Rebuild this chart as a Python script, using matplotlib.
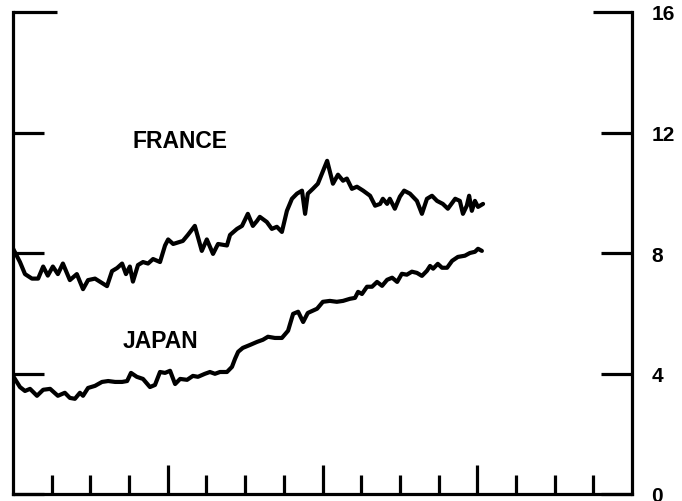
import matplotlib
matplotlib.use("Agg")
import matplotlib.pyplot as plt
from matplotlib.ticker import FixedLocator

# ---- data (x in years from start of axis, y in percent) ----
france_x = [0.00, 0.18, 0.31, 0.49, 0.65, 0.78, 0.90, 1.03, 1.16, 1.29, 1.47, 1.65, 1.81, 1.94,
            2.12, 2.43, 2.56, 2.69, 2.82, 2.92, 3.02, 3.10, 3.23, 3.36, 3.49, 3.62, 3.80, 3.93,
            4.01, 4.14, 4.39, 4.52, 4.70, 4.88, 5.01, 5.17, 5.30, 5.53, 5.61, 5.79, 5.92, 6.07,
            6.20, 6.31, 6.38, 6.56, 6.69, 6.82, 6.95, 7.08, 7.21, 7.34, 7.47, 7.55, 7.62, 7.75,
            7.88, 8.12, 8.27, 8.40, 8.53, 8.63, 8.76, 8.89, 9.05, 9.23, 9.36, 9.49, 9.56, 9.67,
            9.74, 9.87, 10.00, 10.11, 10.26, 10.44, 10.57, 10.70, 10.83, 10.96, 11.11, 11.24,
            11.43, 11.55, 11.63, 11.73, 11.79, 11.86, 11.94, 12.02, 12.15]
france_y = [8.15, 7.70, 7.30, 7.15, 7.15, 7.55, 7.25, 7.55, 7.30, 7.65, 7.10, 7.30, 6.80, 7.10,
            7.15, 6.90, 7.40, 7.50, 7.65, 7.30, 7.55, 7.05, 7.60, 7.70, 7.65, 7.80, 7.70, 8.25,
            8.45, 8.30, 8.40, 8.60, 8.90, 8.07, 8.45, 7.97, 8.30, 8.25, 8.60, 8.80, 8.90, 9.30,
            8.90, 9.07, 9.20, 9.03, 8.80, 8.87, 8.70, 9.40, 9.80, 9.97, 10.07, 9.30, 9.97, 10.13,
            10.30, 11.06, 10.30, 10.60, 10.40, 10.47, 10.13, 10.20, 10.07, 9.90, 9.57, 9.63, 9.80,
            9.63, 9.80, 9.47, 9.87, 10.07, 9.97, 9.73, 9.30, 9.80, 9.90, 9.73, 9.63, 9.47,
            9.80, 9.73, 9.30, 9.57, 9.90, 9.40, 9.73, 9.53, 9.63]

japan_x = [0.00, 0.18, 0.31, 0.44, 0.62, 0.78, 0.96, 1.16, 1.34, 1.47, 1.60, 1.73, 1.81, 1.94,
           2.12, 2.30, 2.46, 2.64, 2.82, 2.95, 3.05, 3.20, 3.36, 3.54, 3.67, 3.80, 3.93, 4.06,
           4.19, 4.32, 4.50, 4.65, 4.78, 4.96, 5.09, 5.22, 5.35, 5.53, 5.66, 5.74, 5.82, 5.94,
           6.13, 6.31, 6.46, 6.59, 6.77, 6.95, 7.11, 7.24, 7.37, 7.50, 7.62, 7.86, 8.01, 8.19,
           8.37, 8.53, 8.71, 8.84, 8.92, 9.02, 9.15, 9.28, 9.41, 9.54, 9.67, 9.80, 9.93, 10.05,
           10.18, 10.31, 10.44, 10.57, 10.70, 10.78, 10.86, 10.98, 11.09, 11.22, 11.35, 11.50,
           11.68, 11.81, 11.94, 12.02, 12.12]
japan_y = [3.92, 3.55, 3.42, 3.49, 3.26, 3.46, 3.49, 3.26, 3.36, 3.19, 3.16, 3.36, 3.26, 3.52,
           3.59, 3.72, 3.75, 3.72, 3.72, 3.75, 4.02, 3.89, 3.82, 3.55, 3.62, 4.05, 4.02, 4.09,
           3.65, 3.82, 3.79, 3.92, 3.89, 3.99, 4.05, 3.99, 4.05, 4.05, 4.22, 4.49, 4.72, 4.85,
           4.95, 5.05, 5.12, 5.22, 5.18, 5.18, 5.42, 5.98, 6.05, 5.71, 6.01, 6.15, 6.38, 6.41,
           6.38, 6.41, 6.48, 6.51, 6.71, 6.64, 6.88, 6.88, 7.04, 6.91, 7.11, 7.18, 7.04, 7.31,
           7.28, 7.38, 7.34, 7.24, 7.41, 7.57, 7.48, 7.64, 7.51, 7.51, 7.74, 7.87,
           7.91, 8.00, 8.04, 8.14, 8.07]

y_ticks = [0, 4, 8, 12, 16]
y_tick_labels = ["0", "4", "8", "12", "16"]
x_major = [4, 8, 12]
x_minor = [1, 2, 3, 5, 6, 7, 9, 10, 11, 13, 14, 15]

plt.rcParams['font.family'] = ['Liberation Sans', 'DejaVu Sans']

fig = plt.figure(figsize=(6.82, 5.02), dpi=100)
ax = fig.add_axes([13 / 682, 7 / 502, 619 / 682, 482 / 502])

ax.plot(france_x, france_y, color='black', lw=3.0, solid_joinstyle='round', solid_capstyle='round')
ax.plot(japan_x, japan_y, color='black', lw=3.0, solid_joinstyle='round', solid_capstyle='round')

ax.set_xlim(0, 16)
ax.set_ylim(0, 16)

for s in ['left', 'right', 'bottom']:
    ax.spines[s].set_linewidth(2.3)
ax.spines['top'].set_visible(False)

# x ticks (inward, no labels)
ax.xaxis.set_major_locator(FixedLocator(x_major))
ax.xaxis.set_minor_locator(FixedLocator(x_minor))
ax.tick_params(axis='x', which='major', direction='in', length=21, width=2.3,
               labelbottom=False, top=False)
ax.tick_params(axis='x', which='minor', direction='in', length=14, width=2.3, top=False)

# y ticks (inward both sides, labels on right)
ax.set_yticks(y_ticks)
ax.set_yticklabels(y_tick_labels)
ax.tick_params(axis='y', which='major', direction='in', length=22, width=2.3,
               left=True, right=True, labelleft=False, labelright=True,
               labelsize=15, pad=14)
top_tick = ax.yaxis.get_major_ticks()[-1]
top_tick.tick1line.set_markersize(32)
top_tick.tick2line.set_markersize(28)
for lab in ax.get_yticklabels():
    lab.set_fontweight('bold')

ax.text(4.32, 11.75, "FRANCE", ha='center', va='center', fontsize=16.5, fontweight='bold')
ax.text(3.80, 5.10, "JAPAN", ha='center', va='center', fontsize=16.5, fontweight='bold')

fig.savefig("out.png", dpi=100)
